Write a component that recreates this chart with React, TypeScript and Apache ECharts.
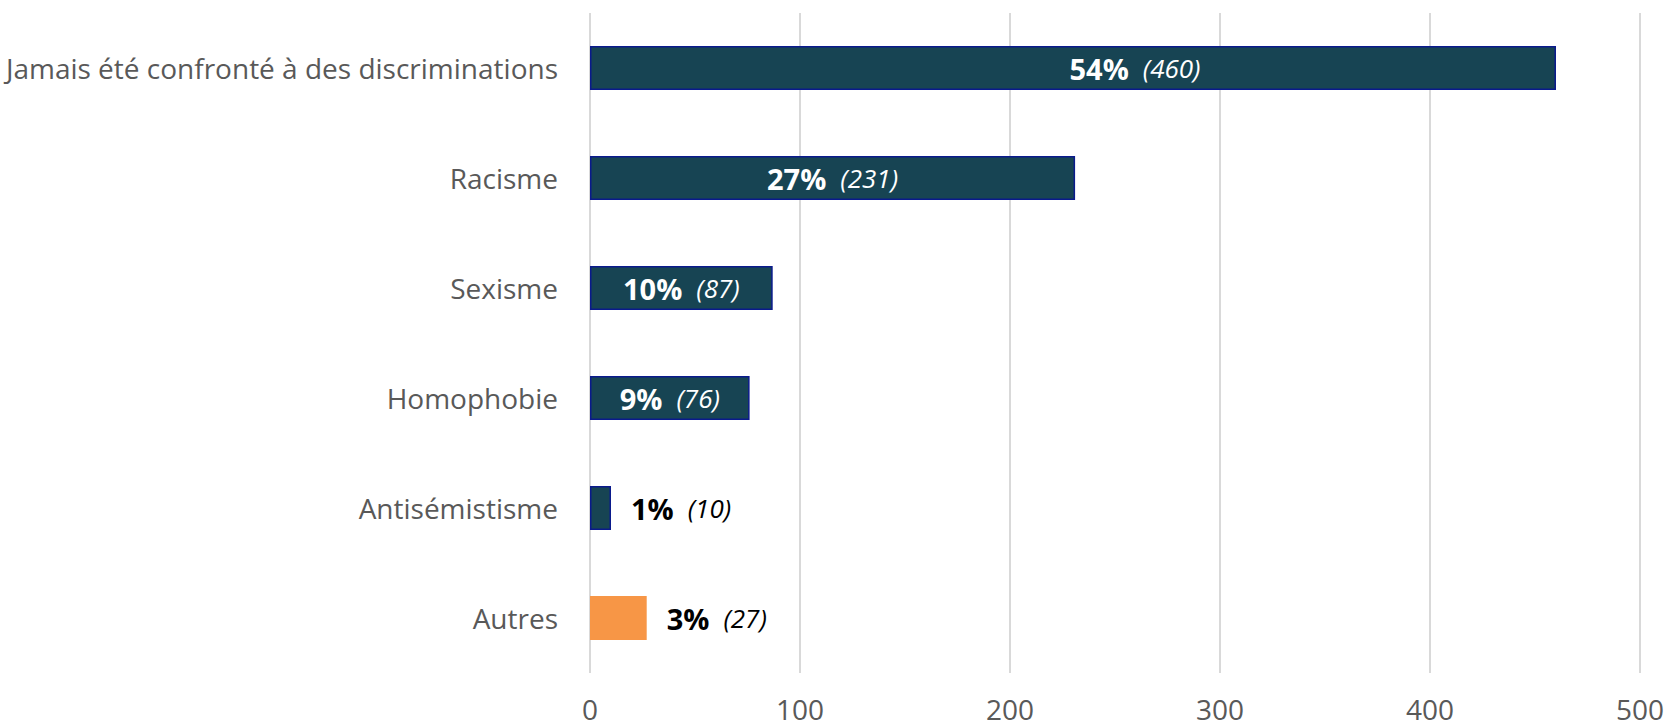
import React, { useEffect, useRef } from "react";
import * as echarts from "echarts";

const categories = [
  "Jamais été confronté à des discriminations",
  "Racisme",
  "Sexisme",
  "Homophobie",
  "Antisémistisme",
  "Autres",
];
const counts = [460, 231, 87, 76, 10, 27];
const percents = [54, 27, 10, 9, 1, 3];
const insideLabel = [true, true, true, true, false, false];
const barColors = ["#174453", "#174453", "#174453", "#174453", "#174453", "#F79646"];
const borderColors = ["#0A1A8C", "#0A1A8C", "#0A1A8C", "#0A1A8C", "#0A1A8C", "#F79646"];
const labelShift = [62, 0, 0, 0, 0, 0];
const xTicks = [0, 100, 200, 300, 400, 500];

const FONT = "'Open Sans', sans-serif";

export default function App() {
  const ref = useRef<HTMLDivElement>(null);
  useEffect(() => {
    document.body.style.margin = "0";
    if (!ref.current) return;
    const chart = echarts.init(ref.current, null, { renderer: "svg" });
    const data = counts.map((v, i) => {
      const inside = insideLabel[i];
      const col = inside ? "#FFFFFF" : "#000000";
      return {
        value: v,
        itemStyle: {
          color: barColors[i],
          borderColor: borderColors[i],
          borderWidth: i === 5 ? 0 : 1.5,
        },
        label: {
          show: true,
          position: inside ? "inside" : "right",
          distance: 20,
          offset: [labelShift[i], 0],
          formatter: () => `{b|${percents[i]}%}{i|(${counts[i]})}`,
          rich: {
            b: { fontFamily: FONT, fontSize: 29, fontWeight: "bold", color: col },
            i: {
              fontFamily: FONT,
              fontSize: 26,
              fontStyle: "italic",
              color: col,
              padding: [0, 0, 0, 14],
            },
          },
        },
      };
    });
    chart.setOption({
      animation: false,
      grid: { left: 590, right: 25, top: 13, bottom: 54, containLabel: false },
      xAxis: {
        type: "value",
        min: xTicks[0],
        max: xTicks[xTicks.length - 1],
        interval: 100,
        axisLine: { show: false },
        axisTick: { show: false },
        splitLine: { show: true, lineStyle: { color: "#D9D9D9", width: 2 } },
        axisLabel: {
          color: "#595959",
          fontFamily: FONT,
          fontSize: 28,
          lineHeight: 28,
          margin: 22,
        },
      },
      yAxis: {
        type: "category",
        data: categories,
        inverse: true,
        axisLine: { show: false },
        axisTick: { show: false },
        axisLabel: {
          color: "#595959",
          fontFamily: FONT,
          fontSize: 28,
          margin: 32,
        },
      },
      series: [
        {
          type: "bar",
          data,
          barWidth: 44,
        },
      ],
    });
    return () => chart.dispose();
  }, []);
  return <div ref={ref} style={{ width: 1667, height: 727 }} />;
}
